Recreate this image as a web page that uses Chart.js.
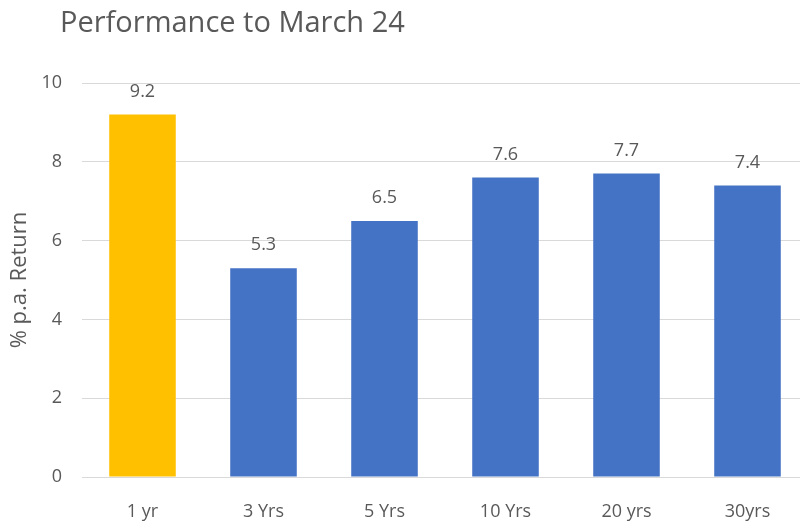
<!DOCTYPE html>
<html>
<head>
<meta charset="utf-8">
<script src="https://cdn.jsdelivr.net/npm/chart.js@4"></script>
<style>
  html, body { margin: 0; padding: 0; background: #fff; overflow: hidden; width: 800px; height: 521px; }
  #wrap { position: absolute; left: 0; top: 0; width: 808px; height: 521px; }
  #title { position: absolute; left: 60px; top: 1px; font-family: "Open Sans", sans-serif; font-size: 29px; line-height: 40px; color: #595959; white-space: nowrap; }
</style>
</head>
<body>
<div id="wrap"><canvas id="c" width="808" height="521"></canvas></div>
<div id="title">Performance to March 24</div>
<script>
const categories = ["1 yr", "3 Yrs", "5 Yrs", "10 Yrs", "20 yrs", "30yrs"];
const returns = [9.2, 5.3, 6.5, 7.6, 7.7, 7.4];
const barColors = ["#FFC000", "#4472C4", "#4472C4", "#4472C4", "#4472C4", "#4472C4"];
const yTicks = [0, 2, 4, 6, 8, 10];

const FONT = '"Open Sans", sans-serif';
const TEXT = '#595959';

const valueLabels = {
  id: 'valueLabels',
  afterDatasetsDraw(chart) {
    const ctx = chart.ctx;
    const meta = chart.getDatasetMeta(0);
    ctx.save();
    ctx.font = '18px ' + FONT;
    ctx.fillStyle = TEXT;
    ctx.textAlign = 'center';
    ctx.textBaseline = 'middle';
    meta.data.forEach((bar, i) => {
      ctx.fillText(returns[i].toFixed(1), bar.x, bar.y - 23);
    });
    ctx.restore();
  }
};

new Chart(document.getElementById('c'), {
  type: 'bar',
  data: {
    labels: categories,
    datasets: [{
      data: returns,
      backgroundColor: barColors,
      barPercentage: 0.55,
      categoryPercentage: 1.0
    }]
  },
  options: {
    responsive: false,
    animation: false,
    devicePixelRatio: 1,
    layout: { padding: { top: 83, right: 0, bottom: 0, left: 0 } },
    plugins: { legend: { display: false }, tooltip: { enabled: false }, title: { display: false } },
    scales: {
      x: {
        grid: { display: false, drawTicks: false },
        border: { display: true, color: '#d9d9d9', width: 1 },
        ticks: { color: TEXT, font: { family: FONT, size: 18 }, padding: 24 },
        afterFit(scale) { scale.height = 44; }
      },
      y: {
        min: 0, max: 10,
        afterBuildTicks(scale) { scale.ticks = yTicks.map(v => ({ value: v })); },
        grid: { color: '#d9d9d9', lineWidth: 1, drawTicks: false },
        border: { display: false },
        ticks: { color: TEXT, font: { family: FONT, size: 18 }, padding: 20 },
        title: { display: true, text: '% p.a. Return', color: TEXT, font: { family: FONT, size: 22, weight: '500' }, padding: { top: 7, bottom: 0 } },
        afterFit(scale) { scale.width = 82; }
      }
    }
  },
  plugins: [valueLabels]
});
</script>
</body>
</html>
